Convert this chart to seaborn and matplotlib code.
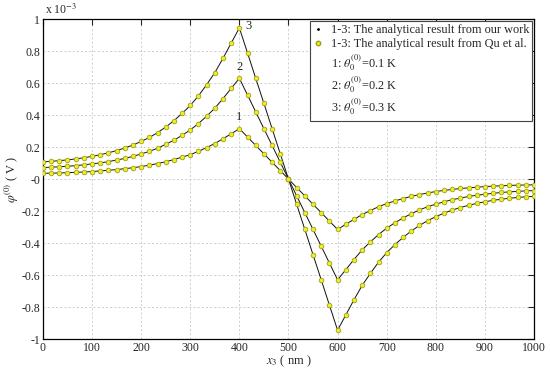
import numpy as np
import pandas as pd
import matplotlib
matplotlib.use("Agg")
import matplotlib.pyplot as plt
from matplotlib.lines import Line2D
from matplotlib.ticker import FuncFormatter
import seaborn as sns

# positions along x3 (nm), 61 samples
x_nm = np.linspace(0, 1000, 61)

# phi^(0) in units of 1e-3 V
phi_3 = [0.108, 0.111, 0.115, 0.120, 0.126, 0.133, 0.142, 0.152, 0.164, 0.178,
         0.194, 0.213, 0.235, 0.260, 0.290, 0.325, 0.365, 0.410, 0.460, 0.520,
         0.590, 0.665, 0.755, 0.850, 0.945,
         0.788, 0.630, 0.473, 0.315, 0.158, 0.0, -0.158, -0.315, -0.473, -0.630, -0.788,
         -0.945, -0.850, -0.755, -0.665, -0.590, -0.520, -0.460, -0.410, -0.365, -0.325,
         -0.290, -0.260, -0.235, -0.213, -0.194, -0.178, -0.164, -0.152, -0.142, -0.133,
         -0.126, -0.120, -0.115, -0.111, -0.108]
phi_2 = [0.072, 0.074, 0.077, 0.080, 0.084, 0.089, 0.095, 0.101, 0.109, 0.119,
         0.129, 0.142, 0.157, 0.173, 0.193, 0.217, 0.243, 0.273, 0.307, 0.347,
         0.393, 0.443, 0.503, 0.567, 0.630,
         0.525, 0.420, 0.315, 0.210, 0.105, 0.0, -0.105, -0.210, -0.315, -0.420, -0.525,
         -0.630, -0.567, -0.503, -0.443, -0.393, -0.347, -0.307, -0.273, -0.243, -0.217,
         -0.193, -0.173, -0.157, -0.142, -0.129, -0.119, -0.109, -0.101, -0.095, -0.089,
         -0.084, -0.080, -0.077, -0.074, -0.072]
phi_1 = [0.036, 0.037, 0.038, 0.040, 0.042, 0.044, 0.047, 0.051, 0.055, 0.059,
         0.065, 0.071, 0.078, 0.087, 0.097, 0.108, 0.122, 0.137, 0.153, 0.173,
         0.197, 0.222, 0.252, 0.283, 0.315,
         0.263, 0.210, 0.158, 0.105, 0.053, 0.0, -0.053, -0.105, -0.158, -0.210, -0.263,
         -0.315, -0.283, -0.252, -0.222, -0.197, -0.173, -0.153, -0.137, -0.122, -0.108,
         -0.097, -0.087, -0.078, -0.071, -0.065, -0.059, -0.055, -0.051, -0.047, -0.044,
         -0.042, -0.040, -0.038, -0.037, -0.036]
curve_ids = ["1", "2", "3"]
theta_vals = ["0.1", "0.2", "0.3"]

df = pd.concat([
    pd.DataFrame({"x": x_nm, "phi": vals, "curve": cid})
    for cid, vals in zip(curve_ids, [phi_1, phi_2, phi_3])
])

sns.set_style("white")
plt.rcParams["font.family"] = ["Liberation Serif", "DejaVu Serif"]
plt.rcParams["mathtext.fontset"] = "stix"
plt.rcParams["axes.unicode_minus"] = False

fig = plt.figure(figsize=(5.5, 3.75), dpi=100)
ax = fig.add_axes([0.078, 0.096, 0.893, 0.853])

sns.lineplot(data=df, x="x", y="phi", units="curve", estimator=None, sort=False,
             color="#111111", lw=0.7, ax=ax, legend=False, zorder=2)
sns.scatterplot(data=df, x="x", y="phi", color="#eeee22", edgecolor="#a0a018",
                linewidth=0.6, s=11, ax=ax, legend=False, zorder=3)

# curve number labels near the peaks
ax.text(412, 0.955, "3", fontsize=9, ha="left", va="center")
ax.text(400, 0.70, "2", fontsize=9, ha="center", va="center")
ax.text(400, 0.385, "1", fontsize=9, ha="center", va="center")

ax.set_xlim(0, 1000)
ax.set_ylim(-1, 1)
ax.set_xticks(np.arange(0, 1001, 100))
ax.set_yticks(np.arange(-1, 1.01, 0.2))
ax.yaxis.set_major_formatter(FuncFormatter(lambda v, p: "%g" % round(v, 1)))
ax.tick_params(direction="in", top=True, right=True, length=4, width=0.8,
               labelsize=8.5, pad=2)
ax.grid(True, color="#c8c8c8", lw=0.6, ls=(0, (2.5, 2.5)))
for s in ax.spines.values():
    s.set_color("black")
    s.set_linewidth(0.9)

ax.set_xlabel("$x_3$ ( nm )", fontsize=9, labelpad=0)
ax.set_ylabel("$\\varphi^{(0)}$ ( V )", fontsize=9, labelpad=0)
fig.text(0.081, 0.955, "x 10$^{-3}$", fontsize=8.5, ha="left", va="bottom")

handles = [
    Line2D([], [], ls="none", marker=".", color="black", markersize=2),
    Line2D([], [], ls="none", marker="o", markerfacecolor="#eeee22",
           markeredgecolor="#a0a018", markersize=3.2),
]
labels = ["1-3: The analytical result from our work",
          "1-3: The analytical result from Qu et al."]
for cid, th in zip(curve_ids, theta_vals):
    handles.append(Line2D([], [], ls="none"))
    labels.append("%s: $\\theta_0^{(0)}$=%s K" % (cid, th))

leg = ax.legend(handles, labels, loc="upper right", fontsize=8.8, frameon=True,
                fancybox=False, framealpha=1, edgecolor="#444444",
                borderaxespad=0.15, handlelength=0.8, handletextpad=0.6,
                labelspacing=0.18, borderpad=0.25)
leg.get_frame().set_linewidth(0.8)

fig.savefig("out.png", dpi=100)
